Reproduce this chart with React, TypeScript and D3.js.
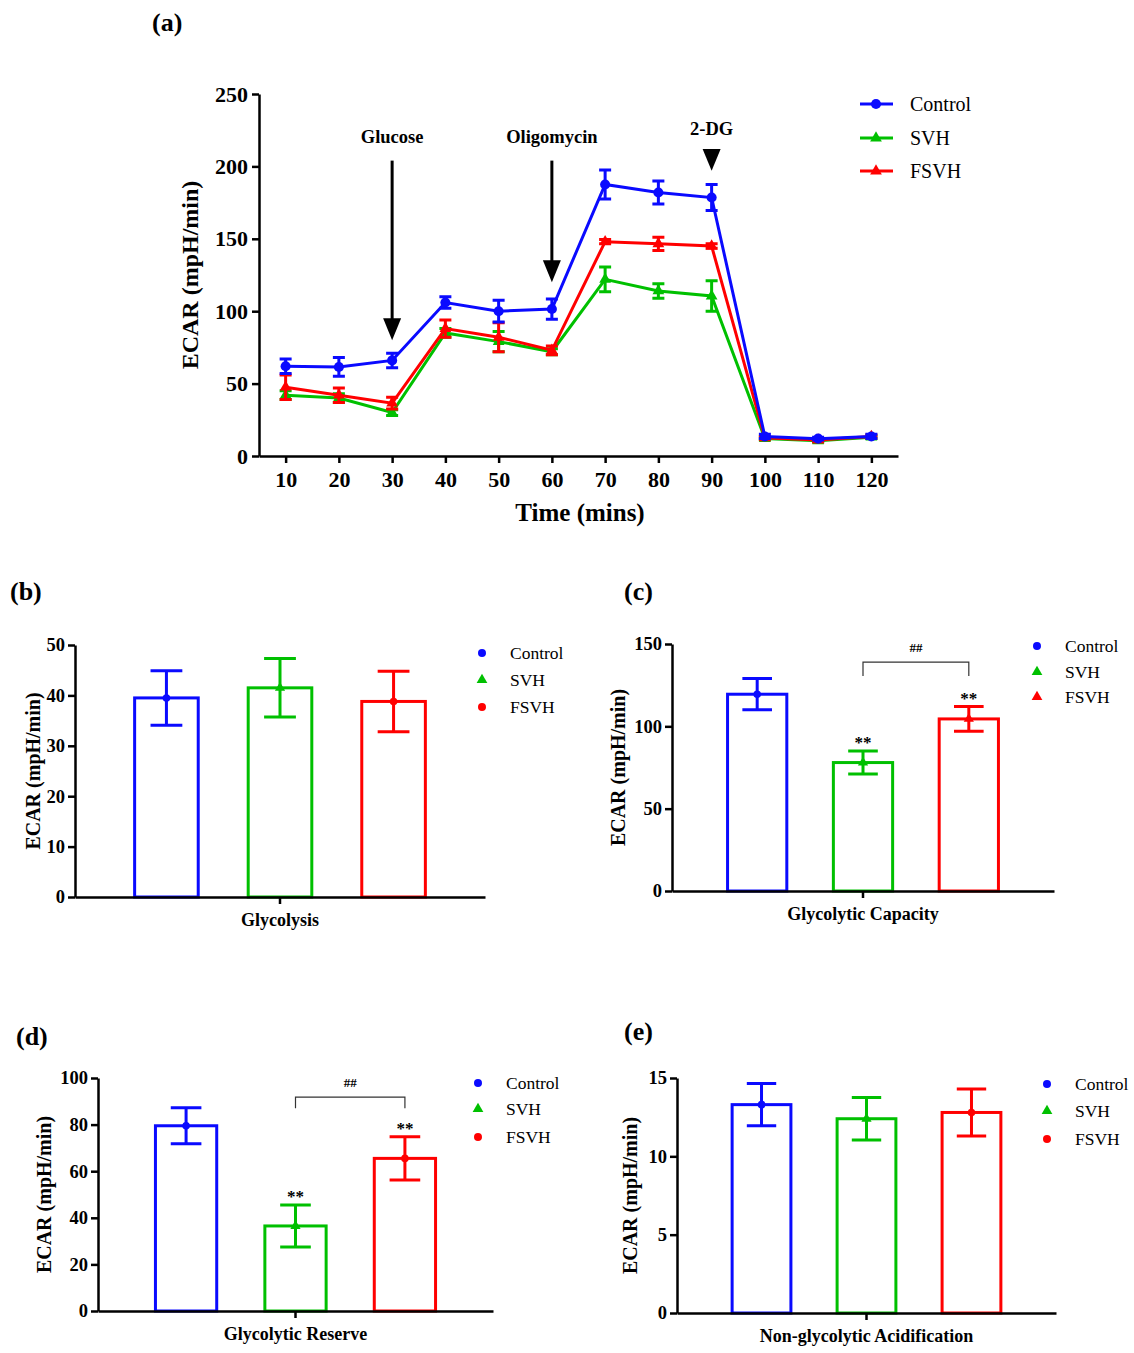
import { useEffect, useRef } from "react";
import * as d3 from "d3";

const FONT = "'Liberation Serif', 'Times New Roman', serif";

const groups = ["Control", "SVH", "FSVH"];
const groupColors = ["#0a0aff", "#00c000", "#ff0000"];

// (a) time course
const times = [10, 20, 30, 40, 50, 60, 70, 80, 90, 100, 110, 120];
const controlMean = [62, 61.5, 66, 106, 100, 101.5, 187.5, 182, 178.5, 13.5, 12, 13.5];
const controlErr = [5, 6.5, 5, 4, 7.5, 7, 10, 8, 9, 1.5, 1, 1.5];
const svhMean = [42, 40, 30, 85, 79, 72, 122, 114, 110.5, 12, 10.5, 13];
const svhErr = [3, 3, 2, 3, 7, 2, 8.5, 5, 10.5, 1, 1, 1];
const fsvhMean = [47.5, 42, 36.5, 88, 82, 73, 148, 146.5, 145, 12.5, 11, 13.5];
const fsvhErr = [8.5, 5, 4, 6, 10, 3, 1.5, 4.5, 1.5, 1, 1, 1];
const timeYTicks = [0, 50, 100, 150, 200, 250];

// (b)-(e) summary bars
const glycolysisMean = [39.5, 41.5, 38.8];
const glycolysisErr = [5.4, 5.8, 6.0];
const capacityMean = [119.5, 78, 104.5];
const capacityErr = [9.5, 7, 7.5];
const reserveMean = [79.5, 36.5, 65.5];
const reserveErr = [7.7, 9, 9.3];
const nonGlyMean = [13.3, 12.4, 12.8];
const nonGlyErr = [1.35, 1.35, 1.5];

const circle = d3.symbolCircle;
const triangle = d3.symbolTriangle;

type Sel = d3.Selection<SVGGElement, unknown, null, undefined>;

const styleAxis = (a: Sel, size: number) => {
  a.attr("font-family", FONT).attr("font-size", size).attr("font-weight", "bold");
  a.selectAll("path, line").attr("stroke", "#000").attr("stroke-width", 2.5);
  a.selectAll("text").attr("fill", "#000");
};

function drawTimeCourse(svg: Sel) {
  const x = d3.scaleLinear().domain([5, 125]).range([259, 898]);
  const y = d3.scaleLinear().domain([0, 250]).range([456, 94]);
  const g = svg.append("g");

  const series = [
    { name: "SVH", mean: svhMean, err: svhErr, color: groupColors[1], sym: triangle },
    { name: "FSVH", mean: fsvhMean, err: fsvhErr, color: groupColors[2], sym: triangle },
    { name: "Control", mean: controlMean, err: controlErr, color: groupColors[0], sym: circle },
  ];

  const line = d3.line<number>().x((_, i) => x(times[i])).y(d => y(d));

  series.forEach(s => {
    const sg = g.append("g");
    sg.append("path")
      .attr("d", line(s.mean))
      .attr("fill", "none")
      .attr("stroke", s.color)
      .attr("stroke-width", 3);
    s.mean.forEach((m, i) => {
      const cx = x(times[i]);
      const lo = y(m - s.err[i]);
      const hi = y(m + s.err[i]);
      sg.append("path")
        .attr("d", `M${cx},${lo}V${hi}M${cx - 6},${lo}H${cx + 6}M${cx - 6},${hi}H${cx + 6}`)
        .attr("stroke", s.color)
        .attr("stroke-width", 3)
        .attr("fill", "none");
      sg.append("path")
        .attr("d", d3.symbol().type(s.sym).size(s.sym === circle ? 80 : 60)())
        .attr("transform", `translate(${cx},${y(m)})`)
        .attr("fill", s.color);
    });
  });

  const xa = g.append("g")
    .attr("transform", `translate(0,${y(0)})`)
    .call(d3.axisBottom(x).tickValues(times).tickSize(7).tickSizeOuter(0).tickPadding(8));
  styleAxis(xa, 22);
  const ya = g.append("g")
    .attr("transform", `translate(${x(5)},0)`)
    .call(d3.axisLeft(y).tickValues(timeYTicks).tickSize(7).tickSizeOuter(0).tickPadding(4));
  styleAxis(ya, 22);

  // injection arrows
  const arrows = [
    { label: "Glucose", t: 30, top: 204, tip: 80, labelAt: 216 },
    { label: "Oligomycin", t: 60, top: 204, tip: 120, labelAt: 216 },
  ];
  arrows.forEach(a => {
    const ax = x(a.t);
    g.append("line")
      .attr("x1", ax).attr("x2", ax)
      .attr("y1", y(a.top)).attr("y2", y(a.tip) - 18)
      .attr("stroke", "#000").attr("stroke-width", 3);
    g.append("path")
      .attr("d", `M${ax - 9},${y(a.tip) - 22}L${ax + 9},${y(a.tip) - 22}L${ax},${y(a.tip)}Z`)
      .attr("fill", "#000");
    g.append("text")
      .attr("x", ax).attr("y", y(a.labelAt))
      .attr("text-anchor", "middle")
      .attr("font-family", FONT).attr("font-weight", "bold").attr("font-size", 18.5)
      .text(a.label);
  });
  const dgx = x(90);
  g.append("path")
    .attr("d", `M${dgx - 9},${y(212)}L${dgx + 9},${y(212)}L${dgx},${y(197)}Z`)
    .attr("fill", "#000");
  g.append("text")
    .attr("x", dgx).attr("y", y(222))
    .attr("text-anchor", "middle")
    .attr("font-family", FONT).attr("font-weight", "bold").attr("font-size", 18.5)
    .text("2-DG");

  // titles
  g.append("text")
    .attr("x", 580).attr("y", 521)
    .attr("text-anchor", "middle")
    .attr("font-family", FONT).attr("font-weight", "bold").attr("font-size", 25)
    .text("Time (mins)");
  g.append("text")
    .attr("transform", "translate(190,275) rotate(-90)")
    .attr("dy", "0.35em")
    .attr("text-anchor", "middle")
    .attr("font-family", FONT).attr("font-weight", "bold").attr("font-size", 24)
    .text("ECAR (mpH/min)");

  // legend
  const legendY = [104, 138, 171];
  const legendSyms = [circle, triangle, triangle];
  groups.forEach((name, i) => {
    g.append("line")
      .attr("x1", 860).attr("x2", 893)
      .attr("y1", legendY[i]).attr("y2", legendY[i])
      .attr("stroke", groupColors[i]).attr("stroke-width", 3);
    g.append("path")
      .attr("d", d3.symbol().type(legendSyms[i]).size(legendSyms[i] === circle ? 80 : 60)())
      .attr("transform", `translate(876,${legendY[i]})`)
      .attr("fill", groupColors[i]);
    g.append("text")
      .attr("x", 910).attr("y", legendY[i]).attr("dy", "0.35em")
      .attr("font-family", FONT).attr("font-size", 20)
      .text(name);
  });

  g.append("text")
    .attr("x", 152).attr("y", 31)
    .attr("font-family", FONT).attr("font-weight", "bold").attr("font-size", 26)
    .text("(a)");
}

interface BarPanel {
  letter: string;
  letterX: number;
  letterY: number;
  category: string;
  means: number[];
  errs: number[];
  yMax: number;
  yTicks: number[];
  left: number;
  right: number;
  bottom: number;
  top: number;
  labelX: number;
  legendX: number;
  legendY: number[];
  legendSyms: d3.SymbolType[];
  stars: boolean[];
  bracket?: { low: number; high: number; textAt: number };
}

const barPanels: BarPanel[] = [
  {
    letter: "(b)", letterX: 10, letterY: 600, category: "Glycolysis",
    means: glycolysisMean, errs: glycolysisErr, yMax: 50, yTicks: [0, 10, 20, 30, 40, 50],
    left: 75, right: 485, bottom: 897, top: 645, labelX: 33,
    legendX: 482, legendY: [653, 680, 707], legendSyms: [circle, triangle, circle],
    stars: [false, false, false],
  },
  {
    letter: "(c)", letterX: 624, letterY: 600, category: "Glycolytic Capacity",
    means: capacityMean, errs: capacityErr, yMax: 150, yTicks: [0, 50, 100, 150],
    left: 672, right: 1054, bottom: 891, top: 644, labelX: 618,
    legendX: 1037, legendY: [646, 672, 697], legendSyms: [circle, triangle, triangle],
    stars: [false, true, true],
    bracket: { low: 130.5, high: 139, textAt: 145 },
  },
  {
    letter: "(d)", letterX: 16, letterY: 1045, category: "Glycolytic Reserve",
    means: reserveMean, errs: reserveErr, yMax: 100, yTicks: [0, 20, 40, 60, 80, 100],
    left: 98, right: 493, bottom: 1311, top: 1078, labelX: 44,
    legendX: 478, legendY: [1083, 1109, 1137], legendSyms: [circle, triangle, circle],
    stars: [false, true, true],
    bracket: { low: 87, high: 91.8, textAt: 96 },
  },
  {
    letter: "(e)", letterX: 624, letterY: 1040, category: "Non-glycolytic Acidification",
    means: nonGlyMean, errs: nonGlyErr, yMax: 15, yTicks: [0, 5, 10, 15],
    left: 677, right: 1056, bottom: 1313, top: 1078, labelX: 630,
    legendX: 1047, legendY: [1084, 1111, 1139], legendSyms: [circle, triangle, circle],
    stars: [false, false, false],
  },
];

function drawBarPanel(svg: Sel, p: BarPanel) {
  const g = svg.append("g");
  const y = d3.scaleLinear().domain([0, p.yMax]).range([p.bottom, p.top]);
  const outer = d3.scaleBand().domain([p.category]).range([p.left, p.right]);
  const cx = (outer(p.category) || 0) + outer.bandwidth() / 2;
  const step = 0.277 * (p.right - p.left);
  const inner = d3.scaleBand()
    .domain(groups)
    .range([cx - 1.5 * step, cx + 1.5 * step])
    .paddingInner(0.44)
    .paddingOuter(0.22);
  const bw = inner.bandwidth();

  groups.forEach((name, i) => {
    const bx = inner(name) || 0;
    const mid = bx + bw / 2;
    const m = p.means[i];
    const e = p.errs[i];
    g.append("rect")
      .attr("x", bx).attr("width", bw)
      .attr("y", y(m)).attr("height", y(0) - y(m))
      .attr("fill", "#fff")
      .attr("stroke", groupColors[i])
      .attr("stroke-width", 3);
    const lo = y(m - e);
    const hi = y(m + e);
    const cap = bw * 0.25;
    g.append("path")
      .attr("d", `M${mid},${lo}V${hi}M${mid - cap},${lo}H${mid + cap}M${mid - cap},${hi}H${mid + cap}`)
      .attr("stroke", groupColors[i])
      .attr("stroke-width", 3)
      .attr("fill", "none");
    g.append("path")
      .attr("d", d3.symbol().type(p.legendSyms[i]).size(45)())
      .attr("transform", `translate(${mid},${y(m)})`)
      .attr("fill", groupColors[i]);
    if (p.stars[i]) {
      g.append("text")
        .attr("x", mid).attr("y", hi - 3)
        .attr("text-anchor", "middle")
        .attr("font-family", FONT).attr("font-weight", "bold").attr("font-size", 17)
        .text("**");
    }
  });

  if (p.bracket) {
    const x1 = (inner("SVH") || 0) + bw / 2;
    const x2 = (inner("FSVH") || 0) + bw / 2;
    g.append("path")
      .attr("d", `M${x1},${y(p.bracket.low)}V${y(p.bracket.high)}H${x2}V${y(p.bracket.low)}`)
      .attr("fill", "none")
      .attr("stroke", "#333")
      .attr("stroke-width", 1.2);
    g.append("text")
      .attr("x", (x1 + x2) / 2).attr("y", y(p.bracket.textAt))
      .attr("text-anchor", "middle")
      .attr("font-family", FONT).attr("font-weight", "bold").attr("font-size", 13)
      .text("##");
  }

  const xa = g.append("g")
    .attr("transform", `translate(0,${p.bottom})`)
    .call(d3.axisBottom(outer).tickSize(7).tickSizeOuter(0).tickPadding(9));
  styleAxis(xa, 18);
  const ya = g.append("g")
    .attr("transform", `translate(${p.left},0)`)
    .call(d3.axisLeft(y).tickValues(p.yTicks).tickSize(7).tickSizeOuter(0).tickPadding(3));
  styleAxis(ya, 18.5);

  g.append("text")
    .attr("transform", `translate(${p.labelX},${(p.bottom + p.top) / 2}) rotate(-90)`)
    .attr("dy", "0.35em")
    .attr("text-anchor", "middle")
    .attr("font-family", FONT).attr("font-weight", "bold").attr("font-size", 20)
    .text("ECAR (mpH/min)");

  groups.forEach((name, i) => {
    g.append("path")
      .attr("d", d3.symbol().type(p.legendSyms[i]).size(50)())
      .attr("transform", `translate(${p.legendX},${p.legendY[i]})`)
      .attr("fill", groupColors[i]);
    g.append("text")
      .attr("x", p.legendX + 28).attr("y", p.legendY[i]).attr("dy", "0.35em")
      .attr("font-family", FONT).attr("font-size", 17.5)
      .text(name);
  });

  g.append("text")
    .attr("x", p.letterX).attr("y", p.letterY)
    .attr("font-family", FONT).attr("font-weight", "bold").attr("font-size", 26)
    .text(p.letter);
}

export default function App() {
  const svgRef = useRef<SVGSVGElement>(null);

  useEffect(() => {
    if (!svgRef.current) return;
    const svg = d3.select(svgRef.current) as unknown as Sel;
    svg.selectAll("*").remove();
    drawTimeCourse(svg);
    barPanels.forEach(p => drawBarPanel(svg, p));
  }, []);

  return (
    <svg
      ref={svgRef}
      width={1134}
      height={1353}
      style={{ position: "absolute", left: 0, top: 0, background: "#fff" }}
    />
  );
}
